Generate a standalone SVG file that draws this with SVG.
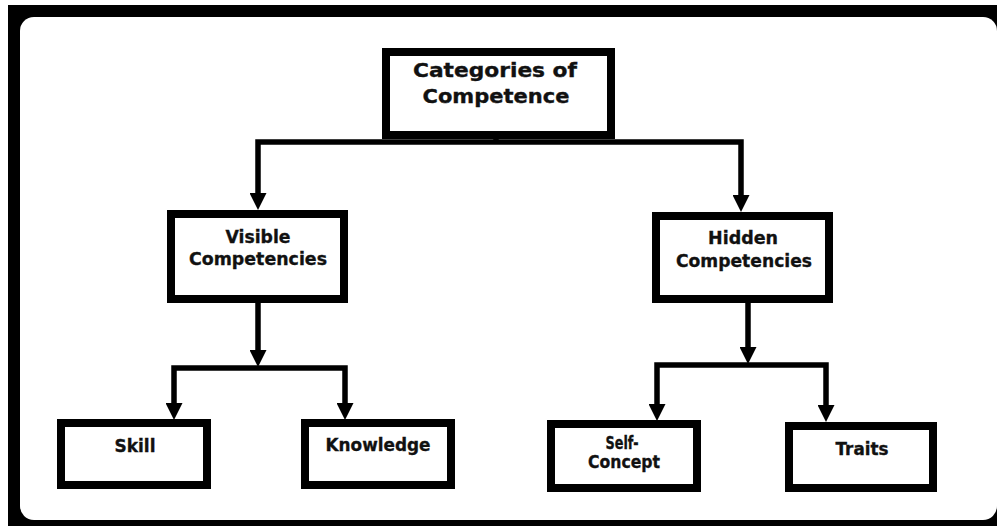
<svg xmlns="http://www.w3.org/2000/svg" width="997" height="526" viewBox="0 0 997 526">
  <defs>
    <marker id="arrow" markerUnits="userSpaceOnUse" markerWidth="17" markerHeight="17" viewBox="0 0 17 17" refX="6" refY="8.5" orient="auto">
      <path d="M0,0 L17,8.5 L0,17 z" fill="#000"/>
    </marker>
    <style>
      .box { fill: #fff; stroke: #000; stroke-width: 8; }
      .lbl { font-family: "DejaVu Sans", "Liberation Sans", sans-serif; font-weight: bold; font-size: 18px; fill: #111; stroke: #111; stroke-width: 0.35; text-anchor: middle; }
      .big { font-size: 19px; }
      .conn { fill: none; stroke: #000; stroke-width: 5.5; stroke-linejoin: miter; }
      .arr { marker-end: url(#arrow); }
    </style>
  </defs>

  <rect x="0" y="0" width="997" height="526" fill="#fff"/>
  <rect x="8" y="5" width="989" height="521" fill="#000"/>
  <rect x="20" y="17" width="977" height="503" rx="14" ry="14" fill="#fff"/>

  <g id="connectors">
    <path class="conn" d="M496 136 V142"/>
    <path class="conn arr" d="M496 142 H258 V199"/>
    <path class="conn arr" d="M496 142 H741 V201"/>
    <path class="conn arr" d="M258 303 V356"/>
    <path class="conn arr" d="M258 368 H174 V409"/>
    <path class="conn arr" d="M258 368 H345 V409"/>
    <path class="conn arr" d="M748 303 V353"/>
    <path class="conn arr" d="M748 365 H657 V410"/>
    <path class="conn arr" d="M748 365 H826 V411"/>
  </g>

  <g id="node-categories">
    <rect class="box" x="386" y="52" width="225" height="83"/>
    <text class="lbl big" x="495" y="77" textLength="164" lengthAdjust="spacingAndGlyphs">Categories of</text>
    <text class="lbl big" x="496" y="103" textLength="147" lengthAdjust="spacingAndGlyphs">Competence</text>
  </g>

  <g id="node-visible">
    <rect class="box" x="171" y="214" width="173" height="85"/>
    <text class="lbl" x="258" y="243" textLength="65" lengthAdjust="spacingAndGlyphs">Visible</text>
    <text class="lbl" x="258" y="265" textLength="138" lengthAdjust="spacingAndGlyphs">Competencies</text>
  </g>

  <g id="node-hidden">
    <rect class="box" x="656" y="216" width="173" height="83"/>
    <text class="lbl" x="743" y="244" textLength="70" lengthAdjust="spacingAndGlyphs">Hidden</text>
    <text class="lbl" x="744" y="267" textLength="136" lengthAdjust="spacingAndGlyphs">Competencies</text>
  </g>

  <g id="node-skill">
    <rect class="box" x="61" y="423" width="146" height="62"/>
    <text class="lbl" x="135" y="452" textLength="41" lengthAdjust="spacingAndGlyphs">Skill</text>
  </g>

  <g id="node-knowledge">
    <rect class="box" x="305" y="423" width="146" height="62"/>
    <text class="lbl" x="378" y="451" textLength="105" lengthAdjust="spacingAndGlyphs">Knowledge</text>
  </g>

  <g id="node-selfconcept">
    <rect class="box" x="551" y="424" width="146" height="64"/>
    <text class="lbl" x="622" y="449" textLength="33" lengthAdjust="spacingAndGlyphs">Self-</text>
    <text class="lbl" x="624" y="468" textLength="72" lengthAdjust="spacingAndGlyphs">Concept</text>
  </g>

  <g id="node-traits">
    <rect class="box" x="789" y="426" width="144" height="62"/>
    <text class="lbl" x="862" y="455" textLength="53" lengthAdjust="spacingAndGlyphs">Traits</text>
  </g>
</svg>
